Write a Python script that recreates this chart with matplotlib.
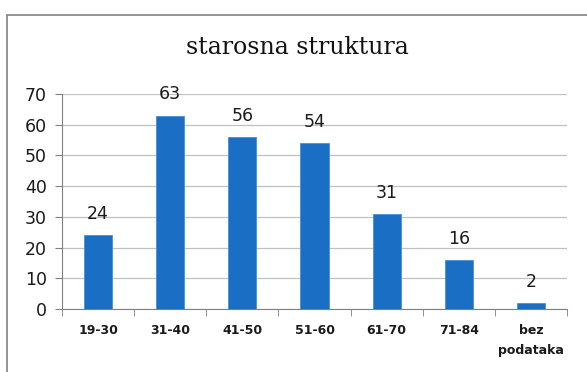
import matplotlib.pyplot as plt
from matplotlib.patches import Rectangle

categories = ["19-30", "31-40", "41-50", "51-60", "61-70", "71-84", "bez\npodataka"]
counts = [24, 63, 56, 54, 31, 16, 2]
yticks = [0, 10, 20, 30, 40, 50, 60, 70]

W, H = 587, 372
fig = plt.figure(figsize=(W / 100, H / 100), dpi=100)
fig.patch.set_facecolor("white")

# outer chart frame (runs off the right and bottom edges)
fig.patches.append(Rectangle((7 / W, -0.1), 1.2, 1.1 - 15 / H, transform=fig.transFigure,
                             fill=False, edgecolor="#808080", linewidth=1.2))

ax = fig.add_axes([62 / W, 1 - 309 / H, (567 - 62) / W, (309 - 94) / H])
x = range(len(categories))
ax.bar(x, counts, width=0.39, color="#1a6ec4", edgecolor="#4a8fd6",
       linewidth=0.6, zorder=3)

for xi, v in zip(x, counts):
    ax.text(xi, v + 4, str(v), ha="center", va="bottom", fontsize=12.5,
            family="DejaVu Sans", color="#1a1a1a")

ax.set_xlim(-0.5, len(categories) - 0.5)
ax.set_ylim(0, 70)
ax.set_yticks(yticks)
ax.set_yticklabels([str(t) for t in yticks], fontsize=12.5, color="#1a1a1a")
ax.yaxis.grid(True, color="#c0c0c0", linewidth=0.9, zorder=0)

# category labels centred, tick marks on category boundaries
ax.set_xticks(list(x))
ax.set_xticklabels(categories, fontsize=9, fontweight="bold", color="#1a1a1a",
                   linespacing=1.65, va="top")
ax.tick_params(axis="x", length=0, pad=11)
ax.set_xticks([i - 0.5 for i in range(len(categories) + 1)], minor=True)
ax.tick_params(axis="x", which="minor", length=5, color="#808080", direction="out")
ax.tick_params(axis="y", length=5, color="#808080", pad=6)

for side in ["top", "right"]:
    ax.spines[side].set_visible(False)
for side in ["left", "bottom"]:
    ax.spines[side].set_color("#808080")

fig.text(297 / W, 1 - 48 / H, "starosna struktura", ha="center", va="center",
         fontsize=17, family="DejaVu Serif", color="#111111")

fig.savefig("out.png", dpi=100)
